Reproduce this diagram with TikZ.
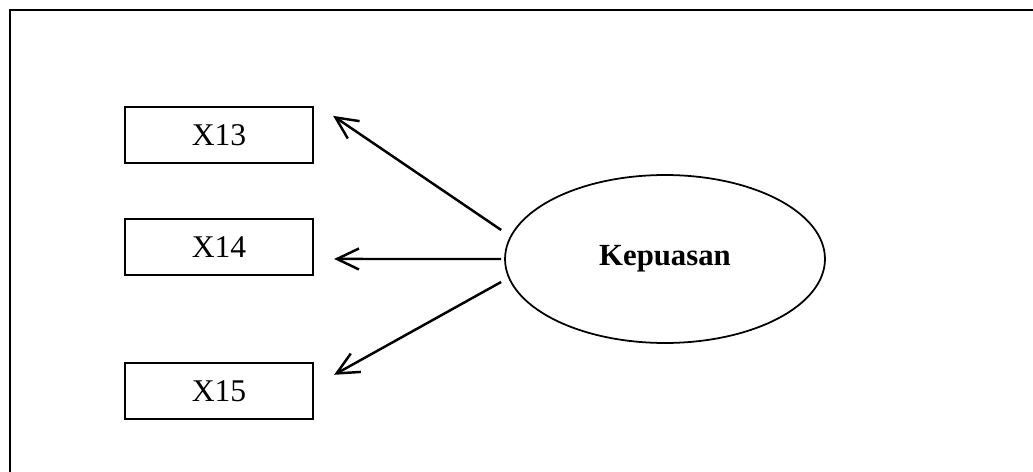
\documentclass[tikz,border=0pt]{standalone}
\usepackage{fontspec}
\setmainfont{Liberation Serif}
\usetikzlibrary{shapes,arrows.meta}
\tikzstyle{indicator} = [rectangle, draw, line width=1.3pt, text centered, minimum width=3.76cm, minimum height=1.12cm, font=\fontsize{18}{21}\selectfont]
\tikzstyle{latent}    = [ellipse, draw, line width=1pt, minimum width=6.4cm, minimum height=3.36cm, font=\fontsize{17.5}{21}\selectfont\bfseries]
\tikzstyle{link}  = [draw, line width=1.4pt, -{Straight Barb[length=0.44cm,width=0.42cm]}]
\tikzstyle{frame} = [draw, line width=1.5pt]

\begin{document}
\begin{tikzpicture}[x=0.02cm, y=-0.02cm, node distance=2.24cm]
            \useasboundingbox (0,0) rectangle (1033,472);
            \node[indicator] (x13) at (219,135) {X13};
            \node[indicator, below of=x13] (x14) {X14};
            \node[indicator, below of=x14, node distance=2.88cm] (x15) {X15};
            \node[latent] (kepuasan) at (665,259) {Kepuasan};

            \path [frame] (1033,10) -- (10,10) -- (10,472);

            \path [link] ([shift={(-3,-29)}]kepuasan.west) -- ([shift={(19,10)}]x13.north east);
            \path [link] ([shift={(-3,0)}]kepuasan.west)   -- ([shift={(20,12)}]x14.east);
            \path [link] ([shift={(-3,23)}]kepuasan.west)  -- ([shift={(20,13)}]x15.north east);
        \end{tikzpicture}
\end{document}
